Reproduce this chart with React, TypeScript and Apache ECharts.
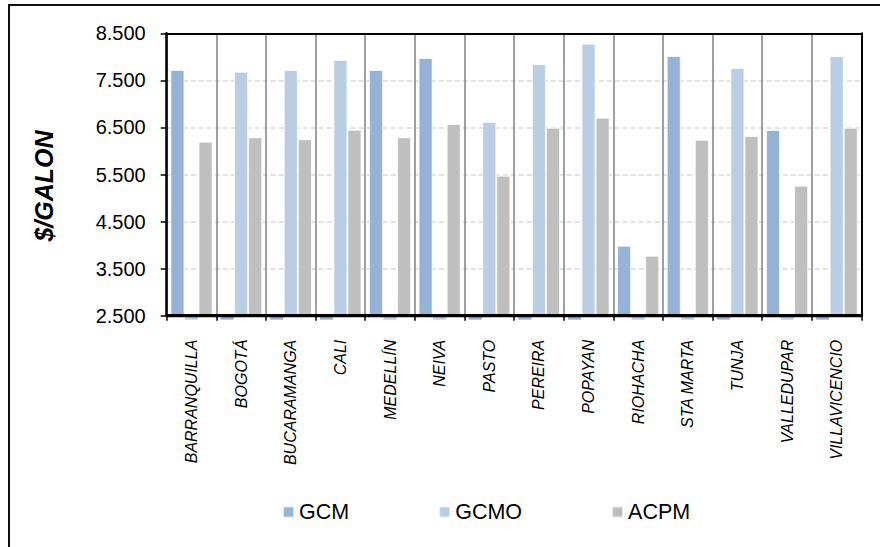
import React, { useEffect, useRef } from "react";
import * as echarts from "echarts";

const categories = [
  "BARRANQUILLA", "BOGOTÁ", "BUCARAMANGA", "CALI", "MEDELLÍN", "NEIVA", "PASTO",
  "PEREIRA", "POPAYAN", "RIOHACHA", "STA MARTA", "TUNJA", "VALLEDUPAR", "VILLAVICENCIO",
];
const seriesNames = ["GCM", "GCMO", "ACPM"];
const gcm = [7720, 0, 0, 0, 7720, 7975, 0, 0, 0, 3987, 8017, 0, 6445, 0];
const gcmo = [0, 7684, 7720, 7932, 0, 0, 6615, 7847, 8279, 0, 0, 7762, 0, 8017];
const acpm = [6197, 6290, 6248, 6452, 6290, 6573, 5474, 6494, 6707, 3775, 6239, 6318, 5262, 6494];
const yTicks = { min: 2500, max: 8500, interval: 1000 };
const yTitle = "$/GALON";

const colors = ["#95B3D7", "#B9CDE5", "#BFBFBF"];
const CAT_GAP = 0.15;
const FONT = "Liberation Sans, Arial, sans-serif";
const GRID = { left: 166.7, right: 18.5, top: 33.3, bottom: 231.3 };
const W = 880;
const H = 547;

export default function App() {
  const ref = useRef<HTMLDivElement>(null);
  useEffect(() => {
    document.body.style.margin = "0";
    if (!ref.current) return;
    const chart = echarts.init(ref.current, null, { renderer: "svg" });
    const all = [gcm, gcmo, acpm];
    const stubs: number[][] = [];
    all.forEach((arr, s) => arr.forEach((v, i) => { if (!v) stubs.push([i, yTicks.min, s]); }));
    const fmt = (v: number) => `${Math.floor(v / 1000)}.${String(v % 1000).padStart(3, "0")}`;
    const yBase = H - GRID.bottom;
    chart.setOption({
      animation: false,
      textStyle: { fontFamily: FONT },
      graphic: [
        { type: "line", shape: { x1: 9, y1: 5, x2: 9, y2: 560 }, style: { stroke: "#111", lineWidth: 2 } },
        { type: "line", shape: { x1: 8, y1: 5, x2: 890, y2: 5 }, style: { stroke: "#111", lineWidth: 2 } },
        {
          type: "text", x: 44, y: 186, rotation: Math.PI / 2,
          style: {
            text: yTitle, align: "center", verticalAlign: "middle", fill: "#000",
            font: `italic bold 25px ${FONT}`,
          },
        },
        {
          type: "rect", z: 100, silent: true,
          shape: { x: GRID.left - 1, y: yBase - 1.8, width: W - GRID.right - GRID.left + 2, height: 3.4 },
          style: { fill: "#000" },
        },
      ],
      grid: GRID,
      legend: {
        left: 277, top: 496,
        itemWidth: 11, itemHeight: 11, itemGap: 89,
        icon: "rect",
        textStyle: { fontSize: 21.5, color: "#000", fontFamily: FONT },
        data: seriesNames,
      },
      xAxis: [
        {
          type: "category",
          data: categories,
          axisLine: { lineStyle: { color: "#000", width: 3 } },
          axisTick: { show: true, interval: 0, length: 5, lineStyle: { color: "#000", width: 1.5 } },
          splitLine: { show: true, interval: 0, lineStyle: { color: "#808080", width: 1.5 } },
          axisLabel: {
            interval: 0, rotate: 90, margin: 24, fontSize: 16, fontStyle: "italic", color: "#000",
            fontFamily: FONT,
          },
        },
        {
          type: "category", position: "top", data: categories,
          axisLine: { show: true, lineStyle: { color: "#000", width: 2 } },
          axisTick: { show: false }, axisLabel: { show: false }, splitLine: { show: false },
        },
      ],
      yAxis: [
        {
          type: "value",
          min: yTicks.min, max: yTicks.max, interval: yTicks.interval,
          axisLine: { show: true, lineStyle: { color: "#000", width: 2.5 } },
          axisTick: { show: true, length: 6, lineStyle: { color: "#000", width: 1.5 } },
          splitLine: { show: true, lineStyle: { color: "#D9D9D9", width: 1.5, type: [5, 3] } },
          axisLabel: { fontSize: 20, color: "#000", margin: 21, formatter: fmt },
        },
        {
          type: "value", position: "right",
          min: yTicks.min, max: yTicks.max, interval: yTicks.interval,
          axisLine: { show: true, lineStyle: { color: "#000", width: 2 } },
          axisTick: { show: false }, axisLabel: { show: false }, splitLine: { show: false },
        },
      ],
      series: [
        ...all.map((arr, s) => ({
          type: "bar",
          name: seriesNames[s],
          data: arr.map((v) => (v ? v : null)),
          barGap: "0%",
          barCategoryGap: `${CAT_GAP * 100}%`,
          itemStyle: { color: colors[s], borderColor: "rgba(255,255,255,0.7)", borderWidth: 1 },
        })),
        {
          type: "custom",
          name: "stubs",
          data: stubs,
          encode: { x: 0, y: 1 },
          silent: true,
          clip: false,
          renderItem: (params: any, api: any) => {
            const cat = api.value(0);
            const s = Number(api.value(2));
            const p = api.coord([cat, api.value(1)]);
            const band = api.size([1, 0])[0];
            const bw = (band * (1 - CAT_GAP)) / 3;
            const x = p[0] + (s - 1) * bw - bw / 2;
            return {
              type: "rect",
              shape: { x: x + 0.5, y: p[1] + 1, width: bw - 1, height: 3 },
              style: { fill: colors[s] || "#B9CDE5", lineWidth: 0 },
            };
          },
        },
      ],
    });
    return () => chart.dispose();
  }, []);
  return <div ref={ref} style={{ width: W, height: H }} />;
}
